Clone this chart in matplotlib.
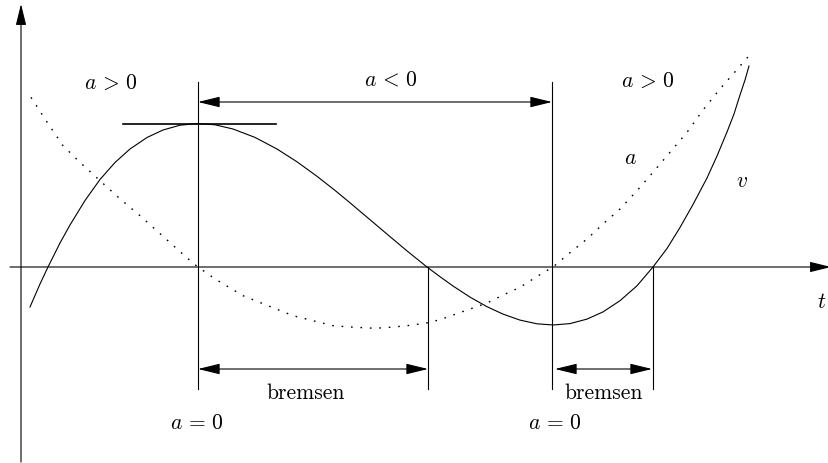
import matplotlib
matplotlib.use("Agg")
import matplotlib.pyplot as plt
from matplotlib.patches import FancyArrowPatch

plt.rcParams['mathtext.fontset'] = 'cm'

# ---- data (t, height above the t-axis) ----
v_t = [30, 40, 48, 60, 70, 85, 100, 115, 130, 147, 163, 180, 198, 215, 233,
       255, 277, 297, 317, 335, 350, 370, 387, 407, 427, 440, 453, 470, 487,
       503, 520, 537, 553, 570, 587, 603, 620, 637, 653, 667, 680, 693, 707,
       717, 727, 734, 740, 745, 749]
v_val = [-40, -17, 0, 24, 42, 66.5, 87.5, 104.5, 118, 129.5, 137, 141.8, 143.5,
         142.2, 138, 129.6, 118, 105.2, 90.7, 76.6, 64.2, 47.3, 32.9, 16.1, 0,
         -9.7, -19, -30.1, -39.7, -47.1, -53.1, -56.8, -58, -56.6, -52.1,
         -44.9, -33.7, -18.8, 0, 18.5, 39.5, 62.5, 89, 111, 135, 153, 172,
         187, 201]

a_t = [31, 45, 63, 80, 100, 120, 140, 165, 192, 198, 215, 243, 268, 293, 313,
       333, 350, 375, 390, 407, 425, 440, 463, 487, 503, 520, 537, 553, 570,
       587, 603, 620, 637, 653, 670, 687, 703, 720, 735, 749]
a_val = [169.7, 148, 121.3, 104.6, 86.3, 68.2, 51.3, 28.9, 4.7, 0, -11.9,
         -28.7, -38.7, -48.7, -53.7, -58.7, -60, -61.3, -60.3, -58.7, -56.3,
         -52.7, -44.5, -36, -28.1, -20.3, -9.5, 0, 14.3, 28, 43, 58, 76.3,
         94.7, 114.7, 134.7, 157, 178, 195.2, 211.3]

t_a_zero = [198, 552]      # a = 0
t_v_zero = [428, 653]      # v = 0 (end of braking)
v_max = 143.5

labels_region = [r"$a\,>\,0$", r"$a\,<\,0$", r"$a\,>\,0$"]
label_brake = "bremsen"
label_azero = r"$a\,=\,0$"

# ---- figure ----
W, H, DPI = 829, 464, 100
fig = plt.figure(figsize=(W / DPI, H / DPI), dpi=DPI)
ax = fig.add_axes([0, 0, 1, 1])
ax.set_xlim(0, W)
ax.set_ylim(268 - H, 268)
ax.axis('off')

LW = 0.8
FS = 15.5


def arrow(p0, p1, style, lw=LW):
    ax.add_patch(FancyArrowPatch(p0, p1, arrowstyle=style, mutation_scale=1,
                                 shrinkA=0, shrinkB=0, lw=lw, color='black'))


# axes
arrow((21, 268 - 463), (21, 263), '-|>,head_length=13,head_width=3.2')
arrow((10, 0), (831, 0), '-|>,head_length=13,head_width=3.2')

# curves
ax.plot(v_t, v_val, color='black', lw=LW, solid_joinstyle='round')
ax.plot(a_t, a_val, color='black', lw=1.0, linestyle=(0, (1.2, 5.6)))

# tangent at maximum
ax.plot([123, 276], [v_max, v_max], color='black', lw=1.2)

# vertical markers
for t in t_a_zero:
    ax.plot([t, t], [185, -122], color='black', lw=LW)
for t in t_v_zero:
    ax.plot([t, t], [0, -122], color='black', lw=LW)

# range arrows
st = '<|-|>,head_length=13.5,head_width=3.3'
arrow((t_a_zero[0], 165), (t_a_zero[1], 165), st)
arrow((t_a_zero[0], -102), (t_v_zero[0], -102), st)
arrow((t_a_zero[1] + 3, -102), (t_v_zero[1] - 1, -102), st)

# texts
ax.text(111, 185, labels_region[0], fontsize=FS, ha='center', va='center')
ax.text(391, 189, labels_region[1], fontsize=FS, ha='center', va='center')
ax.text(648, 187, labels_region[2], fontsize=FS, ha='center', va='center')
ax.text(630, 110, "$a$", fontsize=FS, ha='center', va='center')
ax.text(742, 87, "$v$", fontsize=FS, ha='center', va='center')
ax.text(822, -34, "$t$", fontsize=FS, ha='center', va='center')
ax.text(306, -125, label_brake, fontsize=FS, family='cmr10', ha='center', va='center')
ax.text(604, -125, label_brake, fontsize=FS, family='cmr10', ha='center', va='center')
ax.text(197, -155, label_azero, fontsize=FS, ha='center', va='center')
ax.text(555, -155, label_azero, fontsize=FS, ha='center', va='center')

fig.savefig("out.png", dpi=DPI)
